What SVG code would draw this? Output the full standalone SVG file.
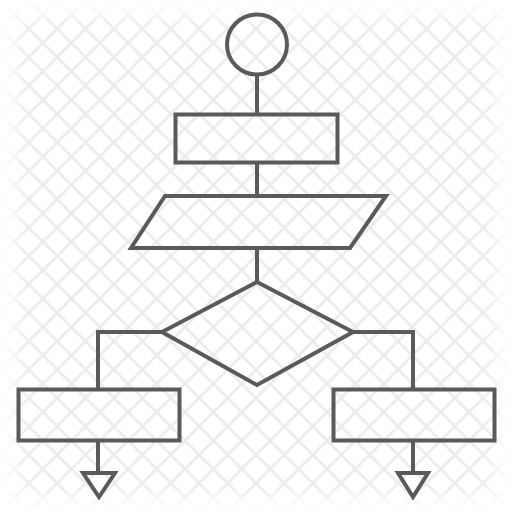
<svg xmlns="http://www.w3.org/2000/svg" width="512" height="512" viewBox="0 0 512 512">
  <defs>
    <pattern id="grid" x="0.4" y="0.4" width="28.4" height="28.4" patternUnits="userSpaceOnUse">
      <path d="M-1,-1 L29.4,29.4 M29.4,-1 L-1,29.4" stroke="#ebebeb" stroke-width="2.6" fill="none"/>
    </pattern>
    <filter id="blur" x="-10%" y="-10%" width="120%" height="120%">
      <feGaussianBlur stdDeviation="9"/>
    </filter>
    <mask id="fade" maskUnits="userSpaceOnUse" x="0" y="0" width="512" height="512">
      <rect x="0" y="0" width="512" height="512" fill="black"/>
      <rect x="14" y="14" width="484" height="484" fill="white" filter="url(#blur)"/>
    </mask>
    <style>
      .s { fill: none; stroke: #5a5a5a; stroke-width: 4; stroke-linejoin: miter; }
    </style>
  </defs>
  <rect width="512" height="512" fill="#ffffff"/>
  <rect width="512" height="512" fill="url(#grid)" mask="url(#fade)"/>

  <g id="connectors" class="s">
    <path d="M257,76 V114"/>
    <path d="M257,163 V196"/>
    <path d="M257,248 V282"/>
    <path d="M162,332 H98 V388"/>
    <path d="M353,332 H413 V388"/>
    <path d="M98,442 V473"/>
    <path d="M413,442 V473"/>
  </g>

  <g id="start"><circle class="s" cx="257" cy="44.5" r="30"/></g>
  <g id="process"><rect class="s" x="175.5" y="114.5" width="162" height="48"/></g>
  <g id="io"><polygon class="s" points="165,196 386,196 350,248 131,248"/></g>
  <g id="decision"><polygon class="s" points="257,282 353,332 257,385 162,332"/></g>
  <g id="left-process"><rect class="s" x="18.5" y="389.5" width="161" height="51"/></g>
  <g id="right-process"><rect class="s" x="333.5" y="389.5" width="161" height="51"/></g>
  <g id="left-end"><polygon class="s" points="83,473 115,473 99,497"/></g>
  <g id="right-end"><polygon class="s" points="398,473 428,473 413,497"/></g>
</svg>
